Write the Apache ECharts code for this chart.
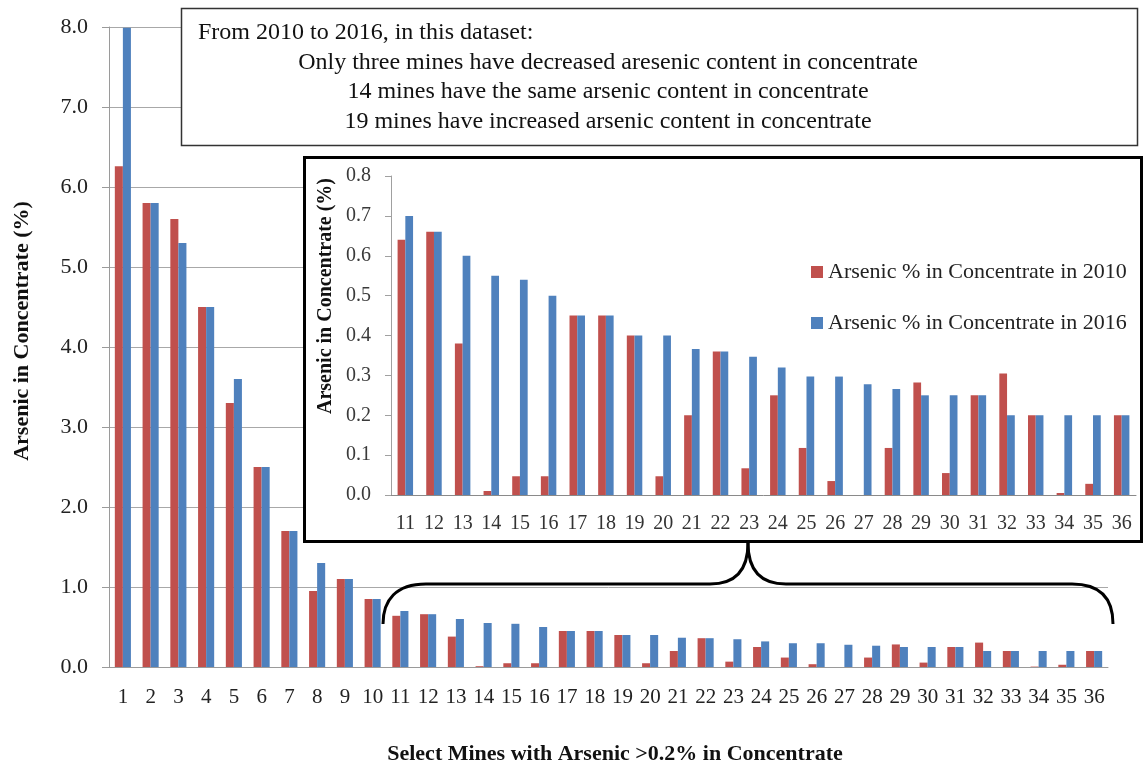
<!DOCTYPE html>
<html>
<head>
<meta charset="utf-8">
<script src="https://cdn.jsdelivr.net/npm/echarts@6/dist/echarts.min.js"></script>
<style>
  html, body { margin: 0; padding: 0; background: #fff; }
  #chart { width: 1143px; height: 767px; }
</style>
</head>
<body>
<div id="chart"></div>
<script>
// mines 1..36 (sorted by 2016 value)
const mines = ['1','2','3','4','5','6','7','8','9','10','11','12','13','14','15','16','17','18',
  '19','20','21','22','23','24','25','26','27','28','29','30','31','32','33','34','35','36']
const arsenic2010 = [6.26, 5.8, 5.6, 4.5, 3.3, 2.5, 1.7, 0.95, 1.1, 0.85,
  0.64, 0.66, 0.38, 0.01, 0.047, 0.047, 0.45, 0.45, 0.4, 0.047, 0.2, 0.36, 0.067, 0.25,
  0.118, 0.035, 0, 0.118, 0.282, 0.055, 0.25, 0.305, 0.2, 0.005, 0.028, 0.2]
const arsenic2016 = [7.99, 5.8, 5.3, 4.5, 3.6, 2.5, 1.7, 1.3, 1.1, 0.85,
  0.70, 0.66, 0.60, 0.55, 0.54, 0.50, 0.45, 0.45, 0.4, 0.4, 0.366, 0.36, 0.347, 0.32,
  0.297, 0.297, 0.278, 0.266, 0.25, 0.25, 0.25, 0.2, 0.2, 0.2, 0.2, 0.2]
const insetStart = 10 // zoomed-in part starts at mine 11
const seriesNames = ['Arsenic % in Concentrate in 2010', 'Arsenic % in Concentrate in 2016']
const yName = 'Arsenic in Concentrate (%)'
const xName = 'Select Mines with Arsenic >0.2% in Concentrate'
const noteLines = [
  'From 2010 to 2016, in this dataset:',
  'Only three mines have decreased aresenic content in concentrate',
  '14 mines have the same arsenic content in concentrate',
  '19 mines have increased arsenic content in concentrate'
]

const serif = 'Liberation Serif'
const red = '#C0504D'
const blue = '#4F81BD'

const chart = echarts.init(document.getElementById('chart'))

// brace pieces
const braceStyle = { fill: null, stroke: '#000', lineWidth: 3 }
const curve = (x1, y1, cpx1, cpy1, cpx2, cpy2, x2, y2) => ({
  type: 'bezierCurve', z: 5,
  shape: { x1, y1, cpx1, cpy1, cpx2, cpy2, x2, y2 },
  style: braceStyle
})
const straight = (x1, y1, x2, y2) => ({
  type: 'line', z: 5,
  shape: { x1, y1, x2, y2 },
  style: braceStyle
})
const title = (text, x, y, size, rotate) => ({
  type: 'text', z: 6, x, y,
  rotation: rotate ? Math.PI / 2 : 0,
  style: {
    text, font: 'bold ' + size + 'px "Liberation Serif"', fill: '#111',
    align: 'center', verticalAlign: 'middle'
  }
})

const option = {
  animation: false,
  backgroundColor: '#fff',
  textStyle: { fontFamily: serif },
  grid: [
    { left: 109, right: 35, top: 27, bottom: 100 },
    { left: 391, right: 7, top: 176, bottom: 272 }
  ],
  legend: {
    data: seriesNames,
    orient: 'vertical',
    left: 806,
    top: 256,
    itemWidth: 12,
    itemHeight: 12,
    itemGap: 29,
    icon: 'rect',
    z: 8,
    textStyle: { fontFamily: serif, fontSize: 22, color: '#222' }
  },
  xAxis: [
    {
      type: 'category',
      gridIndex: 0,
      data: mines,
      axisLine: { lineStyle: { color: '#9a9a9a' } },
      axisTick: { length: 7, lineStyle: { color: '#9a9a9a' } },
      axisLabel: { interval: 0, fontSize: 21, color: '#222', margin: 20 }
    },
    {
      type: 'category',
      gridIndex: 1,
      z: 6,
      data: mines.slice(insetStart),
      axisLine: { lineStyle: { color: '#8a8a8a' } },
      axisTick: { length: 6, lineStyle: { color: '#8a8a8a' } },
      axisLabel: { interval: 0, fontSize: 20, color: '#333', margin: 19 }
    }
  ],
  yAxis: [
    {
      type: 'value',
      gridIndex: 0,
      min: 0,
      max: 8,
      interval: 1,
      axisLine: { show: true, lineStyle: { color: '#9a9a9a' } },
      axisTick: { show: true, length: 7, lineStyle: { color: '#9a9a9a' } },
      splitLine: { lineStyle: { color: '#a8a8a8' } },
      axisLabel: { fontSize: 22, color: '#222', margin: 21, formatter: v => v.toFixed(1) }
    },
    {
      type: 'value',
      gridIndex: 1,
      z: 6,
      min: 0,
      max: 0.8,
      interval: 0.1,
      axisLine: { show: true, lineStyle: { color: '#a0a0a0' } },
      axisTick: { show: true, length: 6, lineStyle: { color: '#a0a0a0' } },
      splitLine: { show: false },
      axisLabel: { fontSize: 20, color: '#3a3a3a', margin: 20, formatter: v => v.toFixed(1) }
    }
  ],
  series: [
    {
      name: seriesNames[0],
      type: 'bar',
      xAxisIndex: 0,
      yAxisIndex: 0,
      z: 2,
      barWidth: '29%',
      barGap: '0%',
      itemStyle: { color: red },
      data: arsenic2010
    },
    {
      name: seriesNames[1],
      type: 'bar',
      xAxisIndex: 0,
      yAxisIndex: 0,
      z: 2,
      barWidth: '29%',
      barGap: '0%',
      itemStyle: { color: blue },
      data: arsenic2016
    },
    {
      name: seriesNames[0],
      type: 'bar',
      xAxisIndex: 1,
      yAxisIndex: 1,
      z: 7,
      barWidth: '27%',
      barGap: '0%',
      itemStyle: { color: red },
      data: arsenic2010.slice(insetStart)
    },
    {
      name: seriesNames[1],
      type: 'bar',
      xAxisIndex: 1,
      yAxisIndex: 1,
      z: 7,
      barWidth: '27%',
      barGap: '0%',
      itemStyle: { color: blue },
      data: arsenic2016.slice(insetStart)
    }
  ],
  graphic: [
    // axis titles
    title(yName, 22, 331, 22, true),
    title(xName, 615, 754, 22, false),
    // note box at the top
    {
      type: 'rect',
      z: 5,
      shape: { x: 181.5, y: 8.5, width: 956, height: 137 },
      style: { fill: '#fff', stroke: '#333', lineWidth: 1.5 }
    },
    ...noteLines.map((t, i) => ({
      type: 'text',
      z: 6,
      x: i === 0 ? 198 : 608,
      y: 33 + i * 29.5,
      style: {
        text: t, font: '24px "Liberation Serif"', fill: '#111',
        align: i === 0 ? 'left' : 'center', verticalAlign: 'middle'
      }
    })),
    // inset frame
    {
      type: 'rect',
      z: 5,
      shape: { x: 304.5, y: 157.5, width: 837, height: 384 },
      style: { fill: '#fff', stroke: '#000', lineWidth: 3 }
    },
    title(yName, 326, 296, 20, true),
    // brace joining inset to mines 11-36
    curve(383, 624, 383, 600, 396, 584, 426, 584),
    straight(426, 584, 710, 584),
    curve(710, 584, 734, 584, 748, 572, 748, 543),
    curve(748, 543, 748, 572, 762, 584, 786, 584),
    straight(786, 584, 1072, 584),
    curve(1072, 584, 1102, 584, 1113, 600, 1113, 624)
  ]
}

chart.setOption(option)
</script>
</body>
</html>
